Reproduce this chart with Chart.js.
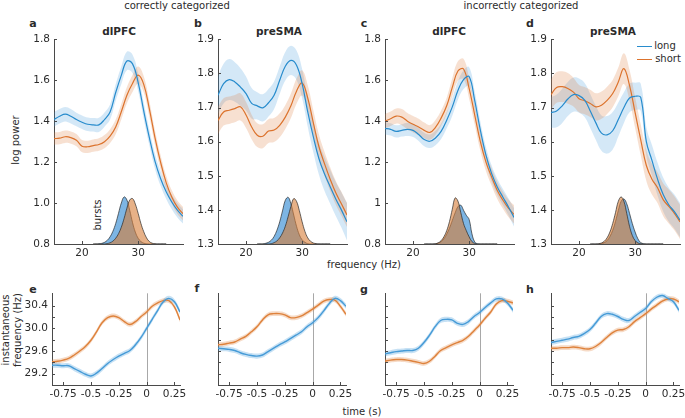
<!DOCTYPE html>
<html><head><meta charset="utf-8">
<script src="https://cdn.jsdelivr.net/npm/chart.js@4.4.1/dist/chart.umd.min.js"></script>
<style>
html,body{margin:0;padding:0;background:#fff}
body{width:685px;height:418px;position:relative;overflow:hidden;font-family:"DejaVu Sans",sans-serif;color:#2b2b2b}
canvas{position:absolute}
.t{position:absolute;white-space:nowrap;font-size:10px;line-height:12px;transform:translate(-50%,-50%)}
.r{transform:translate(-50%,-50%) rotate(-90deg)}
.b{font-weight:bold}
.lg{position:absolute;height:1.6px}
</style></head><body>
<div class="t" style="left:177px;top:6px">correctly categorized</div>
<div class="t" style="left:521px;top:6px">incorrectly categorized</div>
<div class="t b" style="left:33px;top:24px;font-size:11px">a</div>
<div class="t b" style="left:198px;top:24px;font-size:11px">b</div>
<div class="t b" style="left:364px;top:24px;font-size:11px">c</div>
<div class="t b" style="left:530px;top:24px;font-size:11px">d</div>
<div class="t b" style="left:119px;top:31px;font-size:10.5px">dlPFC</div>
<div class="t b" style="left:279px;top:31px;font-size:10.5px">preSMA</div>
<div class="t b" style="left:449px;top:31px;font-size:10.5px">dlPFC</div>
<div class="t b" style="left:613px;top:31px;font-size:10.5px">preSMA</div>
<div class="t r" style="left:16px;top:140px">log power</div>
<div class="t r" style="left:98px;top:215px">bursts</div>
<div class="t" style="left:364px;top:265px">frequency (Hz)</div>
<div class="t b" style="left:33px;top:290px;font-size:11px">e</div>
<div class="t b" style="left:197px;top:289px;font-size:11px">f</div>
<div class="t b" style="left:364px;top:290px;font-size:11px">g</div>
<div class="t b" style="left:530px;top:290px;font-size:11px">h</div>
<div class="t r" style="left:6px;top:330px">instantaneous</div>
<div class="t r" style="left:18px;top:330px">frequency (Hz)</div>
<div class="t" style="left:362px;top:412px">time (s)</div>
<div class="lg" style="left:637px;top:45.5px;width:15px;background:rgb(40,140,205)"></div>
<div class="t" style="left:665px;top:46px">long</div>
<div class="lg" style="left:637px;top:58.5px;width:15px;background:rgb(220,115,45)"></div>
<div class="t" style="left:668px;top:59px">short</div>
<script>
// ---------- data ----------
const freq = [15,16,17,18,19,20,21,22,23,24,25,26,27,28,29,30,31,32,33,34,35,36,37,38];
const freqTicks = [20,30];
const burstFreq = [22,22.5,23,23.5,24,24.5,25,25.5,26,26.5,27,27.5,28,28.5,29,29.5,30,30.5,31,31.5,32,32.5,33,33.5,34,34.5,35];

// panel a: dlPFC, correctly categorized
const aLong  = [1.408,1.424,1.434,1.424,1.408,1.395,1.385,1.382,1.382,1.408,1.445,1.54,1.624,1.694,1.68,1.59,1.45,1.32,1.205,1.12,1.055,1.005,0.965,0.935];
const aLongErr  = [0.035,0.035,0.035,0.035,0.033,0.033,0.033,0.033,0.035,0.035,0.037,0.04,0.043,0.045,0.045,0.043,0.04,0.038,0.037,0.036,0.035,0.035,0.035,0.035];
const aShort = [1.315,1.317,1.324,1.32,1.307,1.278,1.275,1.281,1.286,1.30,1.327,1.372,1.446,1.527,1.584,1.625,1.58,1.46,1.32,1.20,1.10,1.03,0.98,0.948];
const aShortErr = [0.03,0.03,0.03,0.03,0.03,0.03,0.03,0.03,0.03,0.032,0.034,0.036,0.038,0.04,0.042,0.042,0.04,0.038,0.036,0.035,0.034,0.033,0.033,0.033];
const aBurstLong  = [0.8,0.8,0.801,0.803,0.808,0.818,0.835,0.862,0.9,0.95,1.0,1.03,1.015,0.965,0.905,0.858,0.828,0.812,0.804,0.801,0.8,0.8,0.8,0.8,0.8,0.8,0.8];
const aBurstShort = [0.8,0.8,0.8,0.8,0.8,0.802,0.806,0.814,0.828,0.85,0.882,0.925,0.975,1.015,1.022,0.995,0.95,0.9,0.86,0.83,0.812,0.804,0.801,0.8,0.8,0.8,0.8];
const aYTicks = [0.8,1.0,1.2,1.4,1.6,1.8];
const aYLabels = ['0.8','1.0','1.2','1.4','1.6','1.8'];

// panel b: preSMA, correctly categorized
const bLong  = [1.736,1.77,1.782,1.775,1.76,1.741,1.712,1.705,1.699,1.714,1.736,1.78,1.821,1.838,1.824,1.77,1.687,1.614,1.55,1.505,1.468,1.432,1.40,1.365];
const bLongErr  = [0.055,0.058,0.06,0.058,0.055,0.05,0.045,0.04,0.04,0.04,0.04,0.04,0.042,0.043,0.043,0.043,0.043,0.045,0.047,0.05,0.05,0.05,0.052,0.055];
const bShort = [1.662,1.687,1.692,1.697,1.702,1.678,1.643,1.619,1.616,1.631,1.634,1.648,1.672,1.705,1.748,1.772,1.728,1.655,1.585,1.535,1.49,1.45,1.418,1.385];
const bShortErr = [0.04,0.04,0.04,0.04,0.04,0.038,0.036,0.035,0.035,0.035,0.035,0.035,0.035,0.036,0.037,0.037,0.037,0.037,0.036,0.035,0.035,0.035,0.035,0.035];
const bBurstLong  = [1.3,1.3,1.3,1.302,1.305,1.311,1.322,1.34,1.365,1.397,1.428,1.437,1.418,1.385,1.352,1.327,1.312,1.305,1.301,1.3,1.3,1.3,1.3,1.3,1.3,1.3,1.3];
const bBurstShort = [1.3,1.3,1.3,1.3,1.3,1.301,1.304,1.309,1.318,1.332,1.352,1.38,1.41,1.433,1.425,1.398,1.365,1.337,1.318,1.308,1.303,1.301,1.3,1.3,1.3,1.3,1.3];
const bYTicks = [1.3,1.4,1.5,1.6,1.7,1.8,1.9];
const bYLabels = ['1.3','1.4','1.5','1.6','1.7','1.8','1.9'];

// panel c: dlPFC, incorrectly categorized
const cLong  = [1.365,1.36,1.35,1.355,1.36,1.355,1.335,1.31,1.302,1.318,1.35,1.405,1.47,1.55,1.603,1.618,1.5,1.356,1.234,1.145,1.08,1.03,0.982,0.93];
const cLongErr  = [0.03,0.03,0.03,0.03,0.032,0.032,0.032,0.033,0.033,0.035,0.037,0.04,0.043,0.045,0.046,0.046,0.045,0.043,0.04,0.04,0.04,0.04,0.042,0.045];
const cShort = [1.40,1.412,1.425,1.42,1.40,1.385,1.372,1.355,1.345,1.37,1.415,1.475,1.565,1.645,1.655,1.56,1.43,1.30,1.20,1.128,1.063,1.015,0.975,0.945];
const cShortErr = [0.035,0.035,0.037,0.04,0.04,0.04,0.04,0.038,0.036,0.036,0.037,0.04,0.045,0.048,0.05,0.05,0.048,0.045,0.043,0.042,0.042,0.042,0.043,0.045];
const cBurstLong  = [0.8,0.8,0.8,0.8,0.801,0.804,0.811,0.825,0.848,0.878,0.915,0.952,0.982,0.99,0.965,0.94,0.92,0.85,0.81,0.801,0.8,0.8,0.8,0.8,0.8,0.8,0.8];
const cBurstShort = [0.8,0.8,0.8,0.8,0.801,0.806,0.816,0.835,0.865,0.91,0.97,1.025,1.01,0.955,0.9,0.865,0.835,0.812,0.803,0.8,0.8,0.8,0.8,0.8,0.8,0.8,0.8];
const cYTicks = [0.8,1.0,1.2,1.4,1.6,1.8];
const cYLabels = ['0.8','1','1.2','1.4','1.6','1.8'];

// panel d: preSMA, incorrectly categorized
const dLong  = [1.685,1.69,1.705,1.725,1.738,1.735,1.722,1.69,1.655,1.625,1.62,1.632,1.665,1.70,1.728,1.733,1.73,1.60,1.545,1.49,1.445,1.415,1.395,1.37];
const dLongErr  = [0.045,0.048,0.05,0.05,0.05,0.05,0.05,0.05,0.05,0.052,0.055,0.055,0.05,0.045,0.042,0.04,0.04,0.042,0.045,0.048,0.05,0.05,0.05,0.05];
const dShort = [1.738,1.759,1.761,1.756,1.745,1.726,1.72,1.712,1.702,1.707,1.721,1.741,1.775,1.814,1.765,1.685,1.605,1.53,1.49,1.465,1.43,1.41,1.39,1.365];
const dShortErr = [0.045,0.045,0.045,0.045,0.042,0.04,0.04,0.04,0.04,0.04,0.04,0.04,0.042,0.045,0.045,0.045,0.045,0.045,0.045,0.045,0.048,0.05,0.05,0.05];
const dBurstLong  = [1.3,1.3,1.3,1.3,1.301,1.304,1.31,1.322,1.34,1.366,1.398,1.425,1.432,1.418,1.39,1.36,1.335,1.315,1.304,1.301,1.3,1.3,1.3,1.3,1.3,1.3,1.3];
const dBurstShort = [1.3,1.3,1.3,1.301,1.303,1.308,1.318,1.335,1.36,1.392,1.425,1.438,1.425,1.39,1.352,1.325,1.31,1.303,1.301,1.3,1.3,1.3,1.3,1.3,1.3,1.3,1.3];
const dYTicks = bYTicks;
const dYLabels = bYLabels;

// bottom panels: instantaneous frequency vs time
const time = [-0.85,-0.8,-0.75,-0.7,-0.65,-0.6,-0.55,-0.5,-0.45,-0.4,-0.35,-0.3,-0.25,-0.2,-0.15,-0.1,-0.05,0,0.05,0.1,0.15,0.2,0.25,0.3];
const timeTicks = [-0.75,-0.5,-0.25,0,0.25];
const timeLabels = ['-0.75','-0.5','-0.25','0','0.25'];
const ifYTicks = [29.2,29.4,29.6,29.8,30.0,30.2,30.4];
const ifYLabels = ['29.2','','29.6','','30.0','','30.4'];
const noYLabels = ['','','','','','',''];

const eLong  = [29.35,29.35,29.34,29.34,29.29,29.24,29.19,29.16,29.21,29.29,29.38,29.45,29.51,29.56,29.61,29.71,29.84,30.0,30.16,30.32,30.47,30.53,30.47,30.29];
const eShort = [29.41,29.42,29.44,29.47,29.53,29.60,29.68,29.79,29.94,30.10,30.19,30.22,30.19,30.12,30.07,30.12,30.21,30.29,30.39,30.45,30.49,30.49,30.38,30.15];
const fLong  = [29.65,29.64,29.63,29.61,29.57,29.54,29.52,29.51,29.53,29.59,29.65,29.71,29.76,29.82,29.88,29.94,30.03,30.10,30.19,30.31,30.44,30.53,30.49,30.39];
const fShort = [29.71,29.72,29.74,29.76,29.81,29.86,29.94,30.03,30.15,30.24,30.26,30.26,30.24,30.19,30.19,30.22,30.28,30.34,30.41,30.48,30.51,30.50,30.39,30.25];
const gLong  = [29.55,29.57,29.59,29.60,29.61,29.61,29.65,29.75,29.88,30.03,30.14,30.16,30.15,30.09,30.07,30.12,30.21,30.28,30.37,30.45,30.52,30.52,30.45,30.32];
const gShort = [29.42,29.44,29.45,29.45,29.44,29.42,29.40,29.38,29.42,29.51,29.61,29.66,29.71,29.75,29.79,29.86,29.96,30.06,30.18,30.29,30.43,30.49,30.48,30.45];
const hLong  = [29.75,29.77,29.79,29.81,29.84,29.86,29.91,29.98,30.09,30.21,30.26,30.25,30.21,30.16,30.14,30.21,30.28,30.35,30.47,30.55,30.58,30.53,30.47,30.32];
const hShort = [29.65,29.65,29.66,29.66,29.67,29.66,29.64,29.64,29.68,29.75,29.84,29.92,29.97,29.98,30.03,30.12,30.19,30.26,30.34,30.41,30.48,30.52,30.52,30.47];
const bandLongErr  = [0.045,0.045,0.045,0.045,0.045,0.045,0.045,0.045,0.045,0.045,0.045,0.045,0.045,0.045,0.045,0.045,0.045,0.045,0.045,0.045,0.045,0.045,0.045,0.045];
const bandShortErr = [0.042,0.042,0.042,0.042,0.042,0.042,0.042,0.042,0.042,0.042,0.042,0.042,0.042,0.042,0.042,0.042,0.042,0.042,0.042,0.042,0.042,0.042,0.042,0.042];

// ---------- styles ----------
const BLUE = 'rgb(40,140,205)';
const ORANGE = 'rgb(220,115,45)';
const BLUE_BAND = 'rgba(60,150,220,0.22)';
const ORANGE_BAND = 'rgba(225,130,70,0.25)';
const BLUE_BURST = 'rgba(70,150,215,0.7)';
const ORANGE_BURST = 'rgba(215,125,55,0.6)';
const OUTLINE = 'rgba(35,35,35,0.85)';
const AXIS = '#4a4a4a';
const TXT = '#2b2b2b';
const FONT = {family: 'DejaVu Sans', size: 10.5};

const pts = (xs, ys) => xs.map((x, i) => ({x: x, y: ys[i]}));
const shift = (xs, ys, es, s) => xs.map((x, i) => ({x: x, y: ys[i] + s * es[i]}));

const inTicks = {
  id: 'inTicks',
  afterDraw(chart) {
    const {ctx, chartArea: a} = chart;
    const xs = chart.scales.x, ys = chart.scales.y;
    ctx.save();
    ctx.strokeStyle = AXIS; ctx.lineWidth = 1;
    ctx.beginPath();
    xs.ticks.forEach(t => { const p = Math.round(xs.getPixelForValue(t.value)) + 0.5; ctx.moveTo(p, a.bottom); ctx.lineTo(p, a.bottom - 3); });
    ys.ticks.forEach(t => { const p = Math.round(ys.getPixelForValue(t.value)) + 0.5; ctx.moveTo(a.left, p); ctx.lineTo(a.left + 3, p); });
    ctx.stroke();
    ctx.restore();
  }
};
const zeroLine = {
  id: 'zeroLine',
  beforeDatasetsDraw(chart) {
    const {ctx, chartArea: a} = chart;
    const xs = chart.scales.x;
    if (!chart.options.plugins.zeroLine || !chart.options.plugins.zeroLine.show) return;
    const p = Math.round(xs.getPixelForValue(0)) + 0.5;
    ctx.save(); ctx.strokeStyle = '#a8a8a8'; ctx.lineWidth = 1;
    ctx.beginPath(); ctx.moveTo(p, a.top); ctx.lineTo(p, a.bottom); ctx.stroke(); ctx.restore();
  }
};

function makeCanvas(left, top, w, h) {
  const c = document.createElement('canvas');
  c.width = w; c.height = h;
  c.style.left = left + 'px'; c.style.top = top + 'px';
  c.style.width = w + 'px'; c.style.height = h + 'px';
  document.body.appendChild(c);
  return c;
}

function scales(xMin, xMax, xTickVals, xLabels, yMin, yMax, yTickVals, yLabels) {
  return {
    x: {type: 'linear', min: xMin, max: xMax,
        grid: {display: false, drawTicks: false}, border: {display: true, color: AXIS, width: 1},
        afterBuildTicks: s => { s.ticks = xTickVals.map(v => ({value: v})); },
        afterFit: s => { s.height = 22; },
        ticks: {padding: 3, color: TXT, font: FONT, maxRotation: 0, autoSkip: false,
                callback: (v, i) => xLabels[i]}},
    y: {type: 'linear', min: yMin, max: yMax,
        grid: {display: false, drawTicks: false}, border: {display: true, color: AXIS, width: 1},
        afterBuildTicks: s => { s.ticks = yTickVals.map(v => ({value: v})); },
        afterFit: s => { s.width = 40; },
        ticks: {padding: 4, color: TXT, font: FONT, autoSkip: false,
                callback: (v, i) => yLabels[i]}}
  };
}

const baseOpts = {
  responsive: false, animation: false, devicePixelRatio: 1,
  layout: {padding: {top: 10, right: 10, left: 0, bottom: 0}},
  elements: {point: {radius: 0}, line: {tension: 0.4}},
};

function topPanel(areaLeft, yMin, yMax, yT, yL, lv, le, sv, se, bl, bs) {
  const c = makeCanvas(areaLeft - 40, 29, 40 + 129 + 10, 10 + 205 + 22);
  new Chart(c, {
    type: 'line',
    data: {datasets: [
      {data: pts(freq, lv), borderColor: BLUE, borderWidth: 1.2, fill: false, order: 1},
      {data: pts(freq, sv), borderColor: ORANGE, borderWidth: 1.2, fill: false, order: 1},
      {data: pts(burstFreq, bs), borderColor: OUTLINE, borderWidth: 0.8, backgroundColor: ORANGE_BURST, fill: 'start', order: 2},
      {data: pts(burstFreq, bl), borderColor: OUTLINE, borderWidth: 0.8, backgroundColor: BLUE_BURST, fill: 'start', order: 3},
      {data: shift(freq, sv, se, 1), borderWidth: 0, backgroundColor: ORANGE_BAND, fill: '+1', order: 4},
      {data: shift(freq, sv, se, -1), borderWidth: 0, fill: false, order: 4},
      {data: shift(freq, lv, le, 1), borderWidth: 0, backgroundColor: BLUE_BAND, fill: '+1', order: 5},
      {data: shift(freq, lv, le, -1), borderWidth: 0, fill: false, order: 5}
    ]},
    options: Object.assign({}, baseOpts, {
      plugins: {legend: {display: false}, tooltip: {enabled: false}},
      scales: scales(15, 38, freqTicks, freqTicks.map(String), yMin, yMax, yT, yL)
    }),
    plugins: [inTicks]
  });
}

function bottomPanel(areaLeft, lv, sv, yL) {
  const c = makeCanvas(areaLeft - 40, 283, 40 + 128 + 10, 10 + 92 + 22);
  new Chart(c, {
    type: 'line',
    data: {datasets: [
      {data: pts(time, lv), borderColor: 'rgb(70,155,215)', borderWidth: 1.4, fill: false, order: 1},
      {data: pts(time, sv), borderColor: 'rgb(222,130,60)', borderWidth: 1.4, fill: false, order: 1},
      {data: shift(time, lv, bandLongErr, 1), borderWidth: 0, backgroundColor: 'rgba(70,155,220,0.3)', fill: '+1', order: 3},
      {data: shift(time, lv, bandLongErr, -1), borderWidth: 0, fill: false, order: 3},
      {data: shift(time, sv, bandShortErr, 1), borderWidth: 0, backgroundColor: 'rgba(225,135,70,0.3)', fill: '+1', order: 4},
      {data: shift(time, sv, bandShortErr, -1), borderWidth: 0, fill: false, order: 4}
    ]},
    options: Object.assign({}, baseOpts, {
      plugins: {legend: {display: false}, tooltip: {enabled: false}, zeroLine: {show: true}},
      scales: scales(-0.85, 0.3, timeTicks, timeLabels, 29.0, 30.62, ifYTicks, yL)
    }),
    plugins: [inTicks, zeroLine]
  });
}

topPanel(54, 0.8, 1.8, aYTicks, aYLabels, aLong, aLongErr, aShort, aShortErr, aBurstLong, aBurstShort);
topPanel(218, 1.3, 1.9, bYTicks, bYLabels, bLong, bLongErr, bShort, bShortErr, bBurstLong, bBurstShort);
topPanel(385, 0.8, 1.8, cYTicks, cYLabels, cLong, cLongErr, cShort, cShortErr, cBurstLong, cBurstShort);
topPanel(551, 1.3, 1.9, dYTicks, dYLabels, dLong, dLongErr, dShort, dShortErr, dBurstLong, dBurstShort);

bottomPanel(52, eLong, eShort, ifYLabels);
bottomPanel(218, fLong, fShort, noYLabels);
bottomPanel(385, gLong, gShort, noYLabels);
bottomPanel(551, hLong, hShort, noYLabels);
</script>
</body></html>
